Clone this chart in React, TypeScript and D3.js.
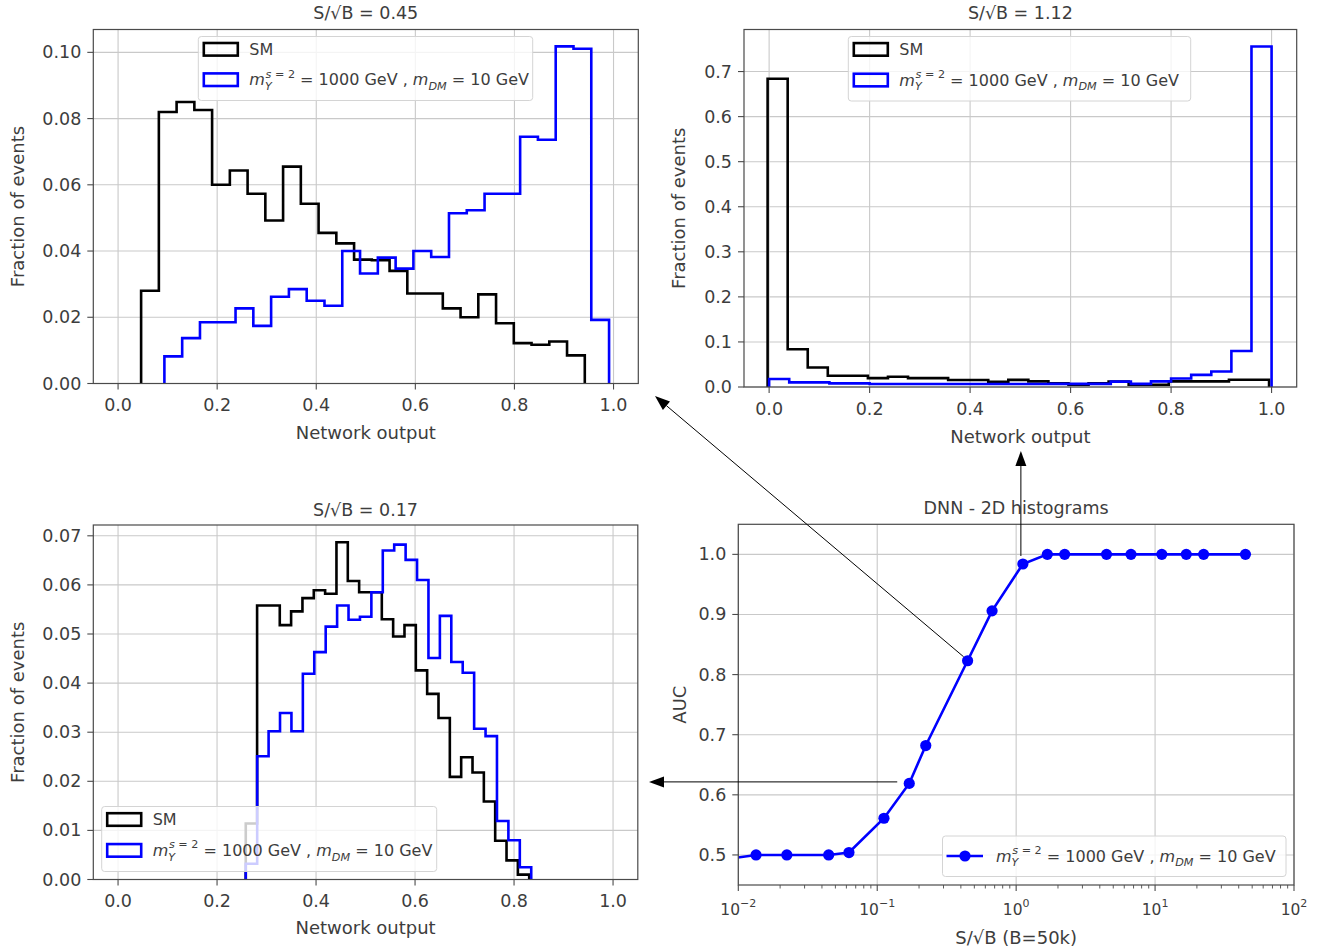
import React from 'react';
import * as d3 from 'd3';

const FONT = '"DejaVu Sans", Verdana, sans-serif';
const TXT = '#3d3d3d';
const GRID = '#c9c9c9';
const SPINE = '#4a4a4a';
const BLUE = '#0000ff';

// ---------- data ----------
// Top-left: S/sqrt(B) = 0.45
const tlTitle = 'S/√B = 0.45';
const tlSM = [0.028, 0.082, 0.085, 0.0826, 0.060, 0.0643, 0.0573, 0.0492, 0.0655, 0.0543, 0.0455, 0.0423, 0.0374, 0.0372, 0.034, 0.0272, 0.0272, 0.0227, 0.020, 0.0269, 0.0182, 0.0122, 0.0117, 0.0127, 0.0085];
const tlSMRange = [0.0465, 0.942];
const tlSig = [0.0082, 0.0137, 0.0185, 0.0185, 0.0227, 0.0174, 0.0262, 0.0285, 0.025, 0.0235, 0.040, 0.0332, 0.038, 0.0347, 0.040, 0.0382, 0.0514, 0.0523, 0.0573, 0.0573, 0.0745, 0.0736, 0.1018, 0.1011, 0.0192];
const tlSigRange = [0.0935, 0.991];
const tlYTicks = [0, 0.02, 0.04, 0.06, 0.08, 0.10];

// Top-right: S/sqrt(B) = 1.12
const trTitle = 'S/√B = 1.12';
const trSM = [0.684, 0.0837, 0.0434, 0.0249, 0.0249, 0.0198, 0.0227, 0.0198, 0.0198, 0.0154, 0.0154, 0.0117, 0.0158, 0.0125, 0.008, 0.005, 0.008, 0.012, 0.005, 0.005, 0.0125, 0.0125, 0.0125, 0.016, 0.016];
const trSMRange = [-0.003, 0.995];
const trSig = [0.0176, 0.0103, 0.0103, 0.008, 0.008, 0.0066, 0.0066, 0.0066, 0.0066, 0.0066, 0.0066, 0.0066, 0.0066, 0.0066, 0.007, 0.007, 0.007, 0.012, 0.007, 0.0125, 0.019, 0.027, 0.0345, 0.080, 0.7555];
const trSigRange = [0.0, 1.0];
const trYTicks = [0, 0.1, 0.2, 0.3, 0.4, 0.5, 0.6, 0.7];

// Bottom-left: S/sqrt(B) = 0.17
const blTitle = 'S/√B = 0.17';
const blSM = [0.0114, 0.0558, 0.0558, 0.0518, 0.0546, 0.0573, 0.0589, 0.0582, 0.0687, 0.0608, 0.0585, 0.0585, 0.053, 0.0495, 0.0518, 0.0426, 0.0378, 0.0329, 0.0209, 0.0249, 0.0218, 0.0159, 0.0079, 0.0039, 0.001];
const blSMRange = [0.258, 0.8306];
const blSig = [0.0032, 0.0251, 0.0302, 0.0339, 0.0302, 0.0419, 0.0463, 0.0515, 0.0558, 0.0529, 0.0535, 0.0585, 0.067, 0.0682, 0.0651, 0.061, 0.0451, 0.0537, 0.0443, 0.0421, 0.0307, 0.0292, 0.0119, 0.008, 0.0025];
const blSigRange = [0.258, 0.8347];
const blYTicks = [0, 0.01, 0.02, 0.03, 0.04, 0.05, 0.06, 0.07];

const histXTicks = [0, 0.2, 0.4, 0.6, 0.8, 1.0];

// AUC vs S/sqrt(B)
const aucTitle = 'DNN - 2D histograms';
const aucX = [0.00447, 0.01342, 0.02236, 0.04472, 0.0626, 0.1118, 0.170, 0.2236, 0.4472, 0.6708, 1.118, 1.677, 2.236, 4.472, 6.708, 11.18, 16.77, 22.36, 44.72];
const aucY = [0.484, 0.5, 0.5, 0.5, 0.504, 0.561, 0.619, 0.682, 0.823, 0.906, 0.984, 1.0, 1.0, 1.0, 1.0, 1.0, 1.0, 1.0, 1.0];
const aucYTicks = [0.5, 0.6, 0.7, 0.8, 0.9, 1.0];
const aucXTickExps = [-2, -1, 0, 1, 2];

// ---------- helpers ----------
function SigLabel({ x, y, fs }: { x: number; y: number; fs: number }) {
  const s = fs * 0.7;
  return (
    <text x={x} y={y} fontSize={fs} fill={TXT} fontFamily={FONT} style={{ whiteSpace: 'pre' }}>
      <tspan fontStyle="italic">m</tspan>
      <tspan fontSize={s} fontStyle="italic" dy={fs * 0.3}>Y</tspan>
      <tspan fontSize={s} dx={-s * 0.55} dy={-fs * 0.78}>
        <tspan fontStyle="italic">s</tspan>
        {' = 2'}
      </tspan>
      <tspan dy={fs * 0.48}>{' = 1000 GeV , '}</tspan>
      <tspan fontStyle="italic">m</tspan>
      <tspan fontSize={s} fontStyle="italic" dy={fs * 0.3}>DM</tspan>
      <tspan dy={-fs * 0.3}>{' = 10 GeV'}</tspan>
    </text>
  );
}

type Box = { l: number; r: number; t: number; b: number };

function HistLegend({ lx, ly, w, h }: { lx: number; ly: number; w: number; h: number }) {
  const fs = 16;
  const rows = [
    { color: '#000', label: 'SM', cy: ly + h * 0.2 },
    { color: BLUE, label: null, cy: ly + h * 0.675 },
  ];
  return (
    <g>
      <rect x={lx} y={ly} width={w} height={h} rx={3} fill="#fff" fillOpacity={0.8} stroke="#d4d4d4" strokeWidth={1} />
      {rows.map((r, i) => (
        <g key={i}>
          <rect x={lx + 5.5} y={r.cy - 6.3} width={34} height={12.6} fill="none" stroke={r.color} strokeWidth={2.6} />
          {r.label ? (
            <text x={lx + 51} y={r.cy + 5.5} fontSize={fs} fill={TXT} fontFamily={FONT}>{r.label}</text>
          ) : (
            <SigLabel x={lx + 51} y={r.cy + 5.5} fs={fs} />
          )}
        </g>
      ))}
    </g>
  );
}

function Hist(props: {
  box: Box; yMax: number; yTicks: number[]; yFmt: string;
  sm: number[]; smRange: number[]; sig: number[]; sigRange: number[];
  title: string; titleY: number; xTickY: number; xLabelY: number; yLabelX: number;
  legend: { x: number; y: number; w: number; h: number };
}) {
  const { box } = props;
  const x = d3.scaleLinear().domain([-0.05, 1.05]).range([box.l, box.r]);
  const y = d3.scaleLinear().domain([0, props.yMax]).range([box.b, box.t]);
  const fmt = d3.format(props.yFmt);
  const step = (vals: number[], rng: number[]) => {
    const w = (rng[1] - rng[0]) / vals.length;
    let d = `M${x(rng[0])},${y(0)}`;
    vals.forEach((v, i) => {
      d += `V${y(v)}H${x(rng[0] + (i + 1) * w)}`;
    });
    d += `V${y(0)}`;
    return d;
  };
  const cx = (box.l + box.r) / 2;
  const cy = (box.t + box.b) / 2;
  return (
    <g fontFamily={FONT}>
      {histXTicks.map((t) => (
        <line key={'gx' + t} x1={x(t)} x2={x(t)} y1={box.t} y2={box.b} stroke={GRID} strokeWidth={1.1} />
      ))}
      {props.yTicks.map((t) => (
        <line key={'gy' + t} x1={box.l} x2={box.r} y1={y(t)} y2={y(t)} stroke={GRID} strokeWidth={1.1} />
      ))}
      <path d={step(props.sm, props.smRange)} fill="none" stroke="#000" strokeWidth={2.6} strokeLinejoin="miter" />
      <path d={step(props.sig, props.sigRange)} fill="none" stroke={BLUE} strokeWidth={2.6} strokeLinejoin="miter" />
      <rect x={box.l} y={box.t} width={box.r - box.l} height={box.b - box.t} fill="none" stroke={SPINE} strokeWidth={1.2} />
      {histXTicks.map((t) => (
        <g key={'tx' + t}>
          <line x1={x(t)} x2={x(t)} y1={box.b} y2={box.b + 6} stroke={SPINE} strokeWidth={1.1} />
          <text x={x(t)} y={props.xTickY} textAnchor="middle" fontSize={17.5} fill={TXT}>{d3.format('.1f')(t)}</text>
        </g>
      ))}
      {props.yTicks.map((t) => (
        <g key={'ty' + t}>
          <line x1={box.l - 6} x2={box.l} y1={y(t)} y2={y(t)} stroke={SPINE} strokeWidth={1.1} />
          <text x={box.l - 12} y={y(t) + 6} textAnchor="end" fontSize={17.5} fill={TXT}>{fmt(t)}</text>
        </g>
      ))}
      <text x={cx} y={props.titleY} textAnchor="middle" fontSize={17.5} fill={TXT}>{props.title}</text>
      <text x={cx} y={props.xLabelY} textAnchor="middle" fontSize={18} fill={TXT}>Network output</text>
      <text transform={`translate(${props.yLabelX},${cy}) rotate(-90)`} textAnchor="middle" fontSize={18} fill={TXT}>Fraction of events</text>
      <HistLegend lx={props.legend.x} ly={props.legend.y} w={props.legend.w} h={props.legend.h} />
    </g>
  );
}

function Arrow({ x1, y1, x2, y2 }: { x1: number; y1: number; x2: number; y2: number }) {
  const ang = Math.atan2(y2 - y1, x2 - x1);
  const L = 15;
  const W = 5.5;
  const bx = x2 - L * Math.cos(ang);
  const by = y2 - L * Math.sin(ang);
  const px = -Math.sin(ang) * W;
  const py = Math.cos(ang) * W;
  return (
    <g>
      <line x1={x1} y1={y1} x2={bx} y2={by} stroke="#000" strokeWidth={1} />
      <path d={`M${x2},${y2}L${bx + px},${by + py}L${bx - px},${by - py}Z`} fill="#000" />
    </g>
  );
}

function AucPlot() {
  const box: Box = { l: 738.3, r: 1294, t: 524.3, b: 885 };
  const x = d3.scaleLog().domain([0.01, 100]).range([box.l, box.r]);
  const y = d3.scaleLinear().domain([0.45, 1.05]).range([box.b, box.t]);
  const pts = aucX.map((v, i) => [v, aucY[i]] as [number, number]);
  const line = d3.line<[number, number]>().x((d) => x(d[0])).y((d) => y(d[1]));
  const minor: number[] = [];
  for (let e = -2; e < 2; e++) for (let k = 2; k <= 9; k++) minor.push(k * Math.pow(10, e));
  const cx = (box.l + box.r) / 2;
  return (
    <g fontFamily={FONT}>
      <defs>
        <clipPath id="aucclip">
          <rect x={box.l} y={box.t} width={box.r - box.l} height={box.b - box.t} />
        </clipPath>
      </defs>
      {aucXTickExps.map((e) => (
        <line key={'gx' + e} x1={x(Math.pow(10, e))} x2={x(Math.pow(10, e))} y1={box.t} y2={box.b} stroke={GRID} strokeWidth={1.1} />
      ))}
      {aucYTicks.map((t) => (
        <line key={'gy' + t} x1={box.l} x2={box.r} y1={y(t)} y2={y(t)} stroke={GRID} strokeWidth={1.1} />
      ))}
      <g clipPath="url(#aucclip)">
        <path d={line(pts) || ''} fill="none" stroke={BLUE} strokeWidth={2.6} />
        {pts.filter((p) => p[0] >= 0.01).map((p, i) => (
          <circle key={i} cx={x(p[0])} cy={y(p[1])} r={5.6} fill={BLUE} />
        ))}
      </g>
      <rect x={box.l} y={box.t} width={box.r - box.l} height={box.b - box.t} fill="none" stroke={SPINE} strokeWidth={1.2} />
      {aucXTickExps.map((e) => (
        <g key={'tx' + e}>
          <line x1={x(Math.pow(10, e))} x2={x(Math.pow(10, e))} y1={box.b} y2={box.b + 6} stroke={SPINE} strokeWidth={1.1} />
          <text x={x(Math.pow(10, e))} y={915} textAnchor="middle" fontSize={15.5} fill={TXT}>
            {'10'}
            <tspan fontSize={11} dy={-8}>{e < 0 ? '−' + Math.abs(e) : String(e)}</tspan>
          </text>
        </g>
      ))}
      {minor.map((m, i) => (
        <line key={'mn' + i} x1={x(m)} x2={x(m)} y1={box.b} y2={box.b + 3.5} stroke={SPINE} strokeWidth={0.9} />
      ))}
      {aucYTicks.map((t) => (
        <g key={'ty' + t}>
          <line x1={box.l - 6} x2={box.l} y1={y(t)} y2={y(t)} stroke={SPINE} strokeWidth={1.1} />
          <text x={box.l - 12} y={y(t) + 6} textAnchor="end" fontSize={17.5} fill={TXT}>{d3.format('.1f')(t)}</text>
        </g>
      ))}
      <text x={cx} y={514} textAnchor="middle" fontSize={17.5} fill={TXT}>{aucTitle}</text>
      <text x={cx} y={944} textAnchor="middle" fontSize={18} fill={TXT}>S/√B (B=50k)</text>
      <text transform={`translate(686,${(box.t + box.b) / 2}) rotate(-90)`} textAnchor="middle" fontSize={18} fill={TXT}>AUC</text>
      {/* legend */}
      <rect x={942.5} y={836} width={343.5} height={40.5} rx={3} fill="#fff" fillOpacity={0.8} stroke="#d4d4d4" strokeWidth={1} />
      <line x1={946.5} x2={983} y1={856} y2={856} stroke={BLUE} strokeWidth={2.6} />
      <circle cx={965} cy={856} r={5.6} fill={BLUE} />
      <SigLabel x={996} y={861.5} fs={16} />
      {/* arrows pointing from the AUC points to the histograms */}
      <Arrow x1={x(aucX[8]) - 4} y1={y(aucY[8]) - 4} x2={655} y2={396} />
      <Arrow x1={x(aucX[10]) - 2} y1={y(aucY[10]) - 8} x2={x(aucX[10]) - 2} y2={451} />
      <Arrow x1={x(aucX[6]) - 12} y1={y(aucY[6]) - 1.5} x2={649} y2={y(aucY[6]) - 1.5} />
    </g>
  );
}

export default function App() {
  return (
    <svg width={1321} height={951} style={{ position: 'absolute', left: 0, top: 0, background: '#fff' }}>
      <rect x={0} y={0} width={1321} height={951} fill="#fff" />
      <Hist
        box={{ l: 93.3, r: 638.3, t: 29.5, b: 383.5 }}
        yMax={0.1069} yTicks={tlYTicks} yFmt=".2f"
        sm={tlSM} smRange={tlSMRange} sig={tlSig} sigRange={tlSigRange}
        title={tlTitle} titleY={19} xTickY={411} xLabelY={439} yLabelX={24}
        legend={{ x: 198.3, y: 36.5, w: 334.4, h: 64 }}
      />
      <Hist
        box={{ l: 744, r: 1296.7, t: 29.5, b: 387 }}
        yMax={0.7933} yTicks={trYTicks} yFmt=".1f"
        sm={trSM} smRange={trSMRange} sig={trSig} sigRange={trSigRange}
        title={trTitle} titleY={19} xTickY={415} xLabelY={443} yLabelX={685}
        legend={{ x: 848.3, y: 36.5, w: 342.4, h: 64.5 }}
      />
      <Hist
        box={{ l: 93.3, r: 637.8, t: 525, b: 879.5 }}
        yMax={0.0722} yTicks={blYTicks} yFmt=".2f"
        sm={blSM} smRange={blSMRange} sig={blSig} sigRange={blSigRange}
        title={blTitle} titleY={516} xTickY={907} xLabelY={934} yLabelX={24}
        legend={{ x: 101.7, y: 806.5, w: 335, h: 65 }}
      />
      <AucPlot />
    </svg>
  );
}
